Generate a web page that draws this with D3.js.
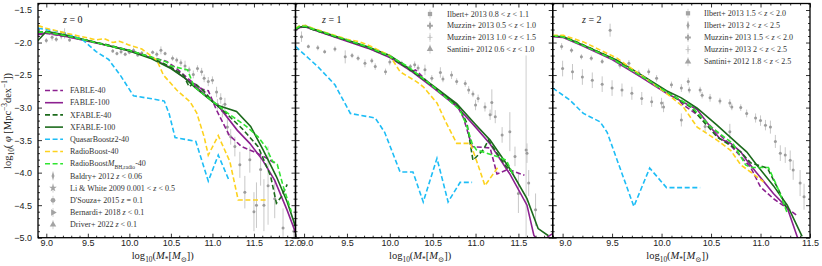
<!DOCTYPE html>
<html>
<head>
<meta charset="utf-8">
<script src="https://cdn.jsdelivr.net/npm/d3@7"></script>
<style>
  body { margin: 0; background: #fff; }
  svg { display: block; font-family: "Liberation Serif", "DejaVu Serif", serif; }
</style>
</head>
<body>
<svg id="chart" width="822" height="266"></svg>
<script>
"use strict";

// ---- data: [log10 M*, log10 phi] ----
const fable40_z0 = [[8.9,-1.88],[9.0,-1.86],[9.25,-1.91],[9.5,-1.97],[9.75,-2.05],[10.0,-2.13],[10.25,-2.22],[10.45,-2.29],[10.55,-2.38],[10.75,-2.6],[10.88,-2.72],[10.95,-2.74],[11.05,-3.04],[11.2,-3.42],[11.35,-3.6],[11.5,-3.68],[11.6,-3.74],[11.75,-3.85]];
const fable100_z0 = [[8.9,-1.87],[9.0,-1.85],[9.25,-1.91],[9.5,-1.98],[9.75,-2.05],[10.0,-2.12],[10.25,-2.23],[10.5,-2.39],[10.75,-2.62],[11.0,-2.9],[11.1,-3.02],[11.3,-3.35],[11.45,-3.55],[11.6,-3.8],[11.75,-4.12],[11.9,-4.58],[12.0,-4.92]];
const xfable40_z0 = [[8.9,-1.84],[9.0,-1.83],[9.25,-1.9],[9.5,-1.97],[9.75,-2.04],[10.0,-2.12],[10.25,-2.22],[10.5,-2.38],[10.65,-2.5],[10.72,-2.68],[10.78,-2.62],[10.9,-2.75],[11.0,-2.9],[11.2,-3.13],[11.37,-3.34],[11.55,-3.6],[11.7,-4.05],[11.77,-4.47],[11.83,-4.37],[11.9,-4.18]];
const xfable100_z0 = [[8.9,-1.97],[9.0,-1.83],[9.25,-1.89],[9.5,-1.97],[9.75,-2.05],[10.0,-2.13],[10.25,-2.24],[10.5,-2.4],[10.65,-2.53],[10.8,-2.7],[11.05,-2.96],[11.29,-3.06],[11.46,-3.29],[11.61,-3.65],[11.77,-4.06],[11.9,-4.45],[12.0,-4.83]];
const quasar_z0 = [[8.9,-1.78],[9.1,-1.82],[9.25,-1.86],[9.45,-1.97],[9.6,-2.14],[9.75,-2.26],[9.9,-2.52],[10.05,-2.82],[10.25,-2.86],[10.42,-2.9],[10.48,-3.1],[10.55,-3.46],[10.8,-3.52],[10.95,-4.13],[11.07,-3.73],[11.2,-4.12]];
const radio_z0 = [[8.9,-1.74],[9.0,-1.78],[9.25,-1.86],[9.5,-1.93],[9.6,-1.96],[9.7,-1.94],[9.8,-2.0],[9.88,-1.98],[10.0,-2.04],[10.15,-2.1],[10.33,-2.27],[10.41,-2.5],[10.57,-2.73],[10.73,-2.91],[10.81,-3.08],[10.9,-3.45],[10.95,-3.73],[11.07,-3.43],[11.21,-3.83],[11.31,-4.42],[11.65,-4.42]];
const radioMbh_z0 = [[8.9,-1.84],[9.0,-1.84],[9.25,-1.9],[9.5,-1.97],[9.75,-2.05],[10.0,-2.12],[10.25,-2.22],[10.45,-2.3],[10.5,-2.36],[10.7,-2.42],[10.78,-2.68],[10.9,-2.8],[11.0,-2.9],[11.2,-3.1],[11.4,-3.28],[11.55,-3.45],[11.65,-3.62],[11.72,-3.82],[11.78,-3.87],[11.85,-4.2],[11.95,-4.6]];

const fable40_z1 = [[8.9,-1.8],[8.95,-1.75],[9.02,-1.74],[9.1,-1.79],[9.5,-1.97],[9.75,-2.08],[10.0,-2.22],[10.2,-2.38],[10.25,-2.45],[10.3,-2.42],[10.5,-2.68],[10.78,-2.96],[10.86,-3.16],[10.96,-3.6],[11.17,-3.62],[11.25,-4.02],[11.38,-3.95],[11.57,-4.04]];
const fable100_z1 = [[8.9,-1.81],[8.95,-1.77],[9.02,-1.76],[9.1,-1.8],[9.5,-1.98],[9.75,-2.09],[10.0,-2.23],[10.25,-2.44],[10.5,-2.69],[10.78,-2.98],[11.0,-3.3],[11.17,-3.56],[11.4,-4.02],[11.6,-4.5],[11.68,-4.96],[11.75,-5.1],[11.85,-4.98],[11.92,-4.92]];
const xfable40_z1 = [[8.9,-1.79],[8.95,-1.76],[9.02,-1.76],[9.1,-1.8],[9.5,-1.97],[9.75,-2.08],[10.0,-2.22],[10.25,-2.43],[10.5,-2.67],[10.8,-2.98],[10.9,-3.24],[10.97,-3.81],[11.09,-3.65],[11.15,-3.5],[11.25,-3.7],[11.36,-3.91],[11.44,-4.01]];
const xfable100_z1 = [[8.9,-1.8],[8.95,-1.76],[9.02,-1.75],[9.1,-1.79],[9.5,-1.96],[9.75,-2.07],[10.0,-2.2],[10.25,-2.42],[10.5,-2.66],[10.78,-2.94],[11.0,-3.26],[11.17,-3.5],[11.4,-3.94],[11.6,-4.4],[11.73,-4.86],[11.85,-4.97]];
const quasar_z1 = [[8.9,-2.06],[9.16,-2.37],[9.36,-2.65],[9.54,-3.09],[9.83,-3.16],[9.94,-3.38],[10.12,-3.99],[10.27,-3.99],[10.39,-4.45],[10.55,-3.78],[10.68,-4.45],[10.82,-4.15],[10.96,-4.15]];
const radio_z1 = [[8.9,-1.78],[8.95,-1.74],[9.02,-1.74],[9.1,-1.78],[9.5,-1.95],[9.65,-1.99],[9.75,-2.04],[10.0,-2.2],[10.12,-2.45],[10.31,-2.6],[10.39,-2.68],[10.55,-2.93],[10.66,-3.24],[10.78,-3.55],[10.94,-3.55],[11.01,-3.81],[11.11,-4.2],[11.27,-3.9]];
const radioMbh_z1 = [[8.9,-1.79],[8.95,-1.75],[9.02,-1.75],[9.1,-1.79],[9.5,-1.96],[9.75,-2.07],[10.0,-2.21],[10.2,-2.36],[10.28,-2.44],[10.5,-2.67],[10.82,-3.04],[10.9,-3.29],[10.96,-3.55],[11.01,-3.65],[11.25,-3.75],[11.36,-3.81],[11.44,-4.04]];

const fable40_z2 = [[8.9,-1.9],[9.0,-1.91],[9.2,-2.04],[9.5,-2.25],[9.8,-2.53],[10.0,-2.72],[10.12,-2.8],[10.22,-2.96],[10.4,-3.15],[10.66,-3.52],[10.8,-3.75],[10.9,-3.92],[11.0,-4.22],[11.13,-4.4],[11.3,-4.58],[11.36,-4.65]];
const fable100_z2 = [[8.9,-1.91],[9.0,-1.92],[9.2,-2.05],[9.5,-2.26],[9.78,-2.52],[10.05,-2.78],[10.36,-3.03],[10.49,-3.29],[10.59,-3.48],[10.7,-3.55],[10.8,-3.68],[10.86,-3.81],[10.96,-4.0],[11.13,-4.32],[11.27,-4.54],[11.37,-4.98],[11.4,-5.1]];
const xfable40_z2 = [[8.9,-1.9],[9.0,-1.9],[9.2,-2.03],[9.5,-2.24],[9.8,-2.52],[10.05,-2.76],[10.3,-3.0],[10.56,-3.45],[10.8,-3.68],[10.9,-3.85],[11.07,-3.93],[11.2,-4.32],[11.27,-4.58]];
const xfable100_z2 = [[8.9,-1.9],[9.01,-1.91],[9.21,-2.04],[9.55,-2.27],[9.82,-2.52],[10.05,-2.74],[10.2,-2.85],[10.36,-3.01],[10.56,-3.27],[10.8,-3.6],[10.86,-3.68],[10.96,-3.88],[11.13,-4.2],[11.27,-4.5],[11.42,-4.98]];
const quasar_z2 = [[8.9,-2.7],[9.07,-2.88],[9.21,-3.09],[9.38,-3.22],[9.45,-3.38],[9.72,-4.52],[9.88,-3.93],[10.05,-4.23],[10.39,-4.23]];
const radio_z2 = [[8.9,-1.89],[9.01,-1.89],[9.21,-1.99],[9.55,-2.24],[9.8,-2.51],[10.05,-2.78],[10.22,-2.99],[10.36,-3.3],[10.56,-3.5],[10.7,-3.66],[10.8,-3.88],[10.9,-3.99],[11.03,-4.14]];
const radioMbh_z2 = [[8.9,-1.9],[9.0,-1.91],[9.2,-2.04],[9.5,-2.25],[9.8,-2.52],[10.05,-2.76],[10.3,-2.98],[10.5,-3.3],[10.72,-3.55],[10.85,-3.88],[10.9,-3.92],[11.08,-3.92],[11.17,-4.22],[11.27,-4.62]];

// observations: [log10 M*, log10 phi, error]
const obs_z0 = [[9.0,-1.97,0.04],[9.07,-1.92,0.05],[9.12,-1.95,0.04],[9.18,-1.9,0.05],[9.22,-1.86,0.08],[9.28,-1.96,0.03],
  [9.8,-2.13,0.03],[9.85,-2.17,0.03],[9.9,-2.14,0.04],[9.95,-2.18,0.03],[10.0,-2.15,0.03],[10.05,-2.12,0.04],[10.1,-2.19,0.03],[10.15,-2.16,0.03],
  [10.28,-2.15,0.03],[10.33,-2.18,0.04],[10.38,-2.12,0.06],[10.43,-2.17,0.03],
  [10.52,-2.24,0.04],[10.57,-2.27,0.04],[10.62,-2.31,0.05],[10.67,-2.36,0.08],[10.72,-2.42,0.05],[10.77,-2.49,0.06],
  [10.82,-2.4,0.05],[10.87,-2.45,0.06],[10.9,-2.55,0.06],[10.95,-2.6,0.07],[11.0,-2.58,0.06],[11.05,-2.76,0.08],[11.1,-2.86,0.08],[11.15,-2.95,0.1],
  [11.06,-2.95,0.08],[11.12,-3.05,0.1],[11.18,-3.3,0.12],[11.22,-3.45,0.12],[11.27,-3.6,0.15],[11.33,-3.88,0.2],[11.39,-4.3,0.25],[11.45,-3.8,0.2],
  [11.5,-4.6,0.3],[11.53,-4.5,0.35],[11.58,-3.95,0.25],[11.62,-4.5,0.4],[11.67,-4.2,0.6],[11.75,-4.4,0.3],[11.85,-4.85,0.3],[11.98,-4.9,0.15]];
const obs_z1 = [[8.97,-1.91,0.08],[9.05,-2.06,0.03],[9.16,-2.08,0.04],[9.24,-2.14,0.03],[9.36,-2.1,0.04],[9.48,-2.22,0.1],[9.56,-2.2,0.04],[9.63,-2.24,0.04],
  [9.71,-2.32,0.06],[9.79,-2.28,0.04],[9.83,-2.37,0.05],[9.95,-2.45,0.05],[10.0,-2.3,0.05],[10.14,-2.32,0.04],[10.24,-2.37,0.04],[10.29,-2.34,0.05],
  [10.33,-2.39,0.05],[10.41,-2.42,0.08],[10.49,-2.55,0.05],[10.59,-2.46,0.08],[10.62,-2.56,0.05],[10.72,-2.5,0.06],[10.78,-2.6,0.05],[10.88,-2.63,0.05],
  [10.92,-2.73,0.06],[10.97,-2.79,0.05],[11.0,-2.96,0.08],[11.03,-2.86,0.06],[11.11,-2.99,0.07],[11.17,-3.11,0.08],[11.19,-2.92,0.2],[11.23,-3.14,0.1],
  [11.31,-3.42,0.12],[11.4,-3.37,0.3],[11.46,-3.75,0.15],[11.5,-4.32,0.3],[11.59,-3.65,1.45],[11.6,-3.7,0.15],[11.62,-4.16,0.2],[11.7,-4.57,0.25]];
const obs_z2 = [[8.99,-2.06,0.05],[9.09,-2.12,0.04],[9.19,-2.22,0.04],[9.29,-2.24,0.04],[9.4,-2.29,0.04],[9.48,-1.81,0.1],[9.58,-2.35,0.05],[9.67,-2.32,0.05],
  [9.77,-2.47,0.05],[9.87,-2.45,0.05],[9.95,-2.55,0.05],[10.1,-2.65,0.05],[10.2,-2.7,0.06],[10.27,-2.6,0.06],[10.28,-2.73,0.05],[10.39,-2.73,0.05],
  [10.41,-2.81,0.05],[10.49,-2.85,0.06],[10.59,-2.9,0.05],[10.69,-2.93,0.06],[10.71,-2.99,0.05],[10.8,-3.0,0.05],[10.86,-3.09,0.06],[10.95,-3.16,0.07],
  [11.0,-3.2,0.08],[11.05,-3.27,0.08],[11.1,-3.3,0.1],[11.15,-3.52,0.1],[11.2,-3.7,0.12],[11.25,-3.73,0.12],[11.3,-3.81,0.15],[11.33,-3.96,0.15],
  [11.4,-4.16,0.2],[11.44,-4.37,0.2],
  [9.0,-2.4,0.12],[9.1,-2.45,0.12],[9.2,-2.53,0.12],[9.3,-2.58,0.12],[9.4,-2.64,0.12],[9.5,-2.7,0.12],[9.6,-2.73,0.1],[9.7,-2.78,0.1],
  [9.8,-2.86,0.1],[9.9,-2.91,0.08],[10.0,-2.93,0.08],[10.02,-2.99,0.08],[10.2,-3.19,0.1],[10.44,-3.29,0.1],[10.69,-3.37,0.12]];

const redshiftLabels = ["0", "1", "2"];
const obsLegend_z0 = [
  ["diamond", [["Baldry+ 2012 "], ["z", "i"], [" < 0.06"]]],
  ["star", [["Li & White 2009 0.001 < "], ["z", "i"], [" < 0.5"]]],
  ["circle", [["D'Souza+ 2015 "], ["z", "i"], [" = 0.1"]]],
  ["right", [["Bernardi+ 2018 "], ["z", "i"], [" < 0.1"]]],
  ["triangle", [["Driver+ 2022 "], ["z", "i"], [" < 0.1"]]]
];
const obsLegend_z1 = [
  ["square", [["Ilbert+ 2013 0.8 < "], ["z", "i"], [" < 1.1"]]],
  ["cross", [["Muzzin+ 2013 0.5 < "], ["z", "i"], [" < 1.0"]]],
  ["plus", [["Muzzin+ 2013 1.0 < "], ["z", "i"], [" < 1.5"]]],
  ["triangle", [["Santini+ 2012 0.6 < "], ["z", "i"], [" < 1.0"]]]
];
const obsLegend_z2 = [
  ["square", [["Ilbert+ 2013 1.5 < "], ["z", "i"], [" < 2.0"]]],
  ["diamond", [["Ilbert+ 2013 2 < "], ["z", "i"], [" < 2.5"]]],
  ["cross", [["Muzzin+ 2013 1.5 < "], ["z", "i"], [" < 2.0"]]],
  ["plus", [["Muzzin+ 2013 2 < "], ["z", "i"], [" < 2.5"]]],
  ["triangle", [["Santini+ 2012 1.8 < "], ["z", "i"], [" < 2.5"]]]
];

// ---- layout ----
const TOP = 3.5, BOTTOM = 237.7;
const panels = [
  { left: 38, right: 295.5, lo: 8.9, hi: 12.0, obs: obs_z0 },
  { left: 295.5, right: 552.7, lo: 8.9, hi: 11.9, obs: obs_z1 },
  { left: 552.7, right: 810, lo: 8.9, hi: 11.5, obs: obs_z2 }
];
const DASH = "5,2.6";
const series = [
  { label: [["FABLE-40"]], color: "#8c2190", dash: DASH, data: [fable40_z0, fable40_z1, fable40_z2] },
  { label: [["FABLE-100"]], color: "#8c2190", dash: null, data: [fable100_z0, fable100_z1, fable100_z2] },
  { label: [["XFABLE-40"]], color: "#1c6b1c", dash: DASH, data: [xfable40_z0, xfable40_z1, xfable40_z2] },
  { label: [["XFABLE-100"]], color: "#1c6b1c", dash: null, data: [xfable100_z0, xfable100_z1, xfable100_z2] },
  { label: [["QuasarBoost"], ["z", "i"], ["2-40"]], color: "#1dbdf6", dash: DASH, data: [quasar_z0, quasar_z1, quasar_z2] },
  { label: [["RadioBoost-40"]], color: "#fdd21e", dash: DASH, data: [radio_z0, radio_z1, radio_z2] },
  { label: [["RadioBoost"], ["M", "i"], ["BH,radio", "sub"], ["-40"]], color: "#30e530", dash: DASH, data: [radioMbh_z0, radioMbh_z1, radioMbh_z2] }
];

const svg = d3.select("#chart");
const defs = svg.append("defs");
const y = d3.scaleLinear().domain([-5, -1.4]).range([BOTTOM, TOP]);
const fmt = d3.format(".1f");

// text with italic / sub / sup parts
function rich(sel, parts, size) {
  let shift = 0;
  parts.forEach(([t, style]) => {
    const isSub = style === "sub", isSup = style === "sup";
    const target = isSub ? size * 0.28 : isSup ? -size * 0.4 : 0;
    const ts = sel.append("tspan").attr("dy", target - shift).text(t);
    shift = target;
    if (isSub || isSup) ts.attr("font-size", size * 0.7);
    if (style === "i") ts.attr("font-style", "italic");
  });
}

function marker(g, kind, cx, cy, s) {
  const grey = "#a3a3a3";
  const types = { diamond: d3.symbolDiamond, star: d3.symbolStar, circle: d3.symbolCircle,
    right: d3.symbolTriangle, triangle: d3.symbolTriangle, square: d3.symbolSquare, cross: d3.symbolCross };
  if (kind === "plus") {
    g.append("path").attr("d", `M${cx - s * 0.55},${cy}H${cx + s * 0.55}M${cx},${cy - s * 0.55}V${cy + s * 0.55}`)
      .attr("stroke", "#bdbdbd").attr("stroke-width", 0.8);
    return;
  }
  const p = g.append("path").attr("d", d3.symbol(types[kind], s * s * 0.9)()).attr("fill", grey);
  let tr = `translate(${cx},${cy})`;
  if (kind === "right") tr += " rotate(90)";
  if (kind === "diamond") tr += " scale(0.65,1)";
  p.attr("transform", tr);
}

const pathOf = x => d3.line().x(d => x(d[0])).y(d => y(d[1]));

panels.forEach((p, i) => {
  const x = d3.scaleLinear().domain([p.lo, p.hi]).range([p.left, p.right]);
  const g = svg.append("g");
  defs.append("clipPath").attr("id", "clip" + i).append("rect")
    .attr("x", p.left).attr("y", TOP).attr("width", p.right - p.left).attr("height", BOTTOM - TOP);
  const plot = g.append("g").attr("clip-path", `url(#clip${i})`);

  // observational points with error bars
  plot.append("g").selectAll("line").data(p.obs).join("line")
    .attr("x1", d => x(d[0])).attr("x2", d => x(d[0]))
    .attr("y1", d => y(d[1] - d[2])).attr("y2", d => y(d[1] + d[2]))
    .attr("stroke", d => d[2] > 0.5 ? "#dcdcdc" : "#c2c2c2").attr("stroke-width", d => d[2] > 0.5 ? 1.4 : 0.9);
  plot.append("g").selectAll("circle").data(p.obs).join("circle")
    .attr("cx", d => x(d[0])).attr("cy", d => y(d[1])).attr("r", 1.5)
    .attr("fill", "#9c9c9c");

  // simulation curves
  series.forEach(s => {
    plot.append("path").datum(s.data[i]).attr("d", pathOf(x))
      .attr("fill", "none").attr("stroke", s.color).attr("stroke-width", 1.6)
      .attr("stroke-dasharray", s.dash);
  });

  // axes: inward ticks on all four sides
  const major = d3.range(18, 25).map(d => d / 2).filter(v => v >= p.lo - 1e-9 && v <= p.hi + 1e-9);
  const minor = d3.range(89, 121).map(d => d / 10)
    .filter(v => v >= p.lo - 1e-9 && v <= p.hi + 1e-9 && !major.some(m => Math.abs(m - v) < 1e-6));
  const yMajor = d3.range(-10, -2).map(d => d / 2);
  const yMinor = d3.range(-50, -13).map(d => d / 10).filter(v => !yMajor.some(m => Math.abs(m - v) < 1e-6));

  const axes = g.append("g").attr("class", "axes");
  const bottomAxis = axes.append("g").attr("transform", `translate(0,${BOTTOM})`)
    .call(d3.axisBottom(x).tickValues(major).tickSize(-4).tickPadding(2).tickFormat(fmt));
  axes.append("g").attr("transform", `translate(0,${BOTTOM})`)
    .call(d3.axisBottom(x).tickValues(minor).tickSize(-2).tickFormat(""));
  axes.append("g").attr("transform", `translate(0,${TOP})`)
    .call(d3.axisTop(x).tickValues(major).tickSize(-4).tickFormat(""));
  axes.append("g").attr("transform", `translate(0,${TOP})`)
    .call(d3.axisTop(x).tickValues(minor).tickSize(-2).tickFormat(""));
  axes.append("g").attr("transform", `translate(${p.left},0)`)
    .call(d3.axisLeft(y).tickValues(yMajor).tickSize(-4).tickPadding(6).tickFormat(i === 0 ? fmt : ""));
  axes.append("g").attr("transform", `translate(${p.left},0)`)
    .call(d3.axisLeft(y).tickValues(yMinor).tickSize(-2).tickFormat(""));
  axes.append("g").attr("transform", `translate(${p.right},0)`)
    .call(d3.axisRight(y).tickValues(yMajor).tickSize(-4).tickFormat(""));
  axes.append("g").attr("transform", `translate(${p.right},0)`)
    .call(d3.axisRight(y).tickValues(yMinor).tickSize(-2).tickFormat(""));
  axes.selectAll(".domain").remove();
  axes.selectAll(".tick line").attr("stroke", "#000").attr("stroke-width", 0.8);
  axes.selectAll(".tick text").attr("font-size", 9).attr("font-family", null).attr("fill", "#222");
  // labels at the shared panel edges sit edge to edge, as in the original
  bottomAxis.selectAll(".tick text").attr("dx", d => (i === 0 && d === 12) ? -3 : (i > 0 && d === 9) ? 2.5 : 0);

  g.append("rect").attr("x", p.left).attr("y", TOP)
    .attr("width", p.right - p.left).attr("height", BOTTOM - TOP)
    .attr("fill", "none").attr("stroke", "#000").attr("stroke-width", 1.3);

  // x label
  rich(g.append("text").attr("x", (p.left + p.right) / 2 - 4).attr("y", 259)
    .attr("text-anchor", "middle").attr("font-size", 10.5).attr("fill", "#222"),
    [["log"], ["10", "sub"], ["("], ["M", "i"], ["*", "sub"], ["["], ["M", "i"], ["⊙", "sub"], ["])"]], 10.5);

  // redshift tag
  rich(g.append("text").attr("x", [63, 322, 582][i]).attr("y", 23).attr("font-size", 10).attr("fill", "#222"),
    [["z", "i"], [" = " + redshiftLabels[i]]], 10);
});

// y label
rich(svg.append("text").attr("transform", "translate(11,121) rotate(-90)")
  .attr("text-anchor", "middle").attr("font-size", 10.5).attr("fill", "#222"),
  [["log"], ["10", "sub"], ["( "], ["φ", "i"], [" [Mpc"], ["−3", "sup"], ["dex"], ["−1", "sup"], ["])"]], 10.5);

// legends
const LFS = 8;
const legend1 = svg.append("g");
series.forEach((s, k) => {
  const yy = 90.5 + k * 12.2;
  legend1.append("line").attr("x1", 45).attr("x2", 63).attr("y1", yy).attr("y2", yy)
    .attr("stroke", s.color).attr("stroke-width", 1.6).attr("stroke-dasharray", s.dash);
  rich(legend1.append("text").attr("x", 70).attr("y", yy + 2.7).attr("font-size", LFS).attr("fill", "#333"), s.label, LFS);
});

function obsLegend(entries, y0, step, mx, tx) {
  const lg = svg.append("g");
  entries.forEach(([kind, parts], k) => {
    const yy = y0 + k * step;
    lg.append("line").attr("x1", mx).attr("x2", mx).attr("y1", yy - 4.5).attr("y2", yy + 4.5)
      .attr("stroke", "#c8c8c8").attr("stroke-width", 0.8);
    marker(lg, kind, mx, yy, 4.5);
    rich(lg.append("text").attr("x", tx).attr("y", yy + 2.7).attr("font-size", LFS).attr("fill", "#333"), parts, LFS);
  });
}
obsLegend(obsLegend_z0, 90.5 + 7 * 12.2, 12.2, 53, 70);
obsLegend(obsLegend_z1, 14, 11.7, 430, 447);
obsLegend(obsLegend_z2, 13.3, 12.1, 688, 704);
</script>
</body>
</html>
